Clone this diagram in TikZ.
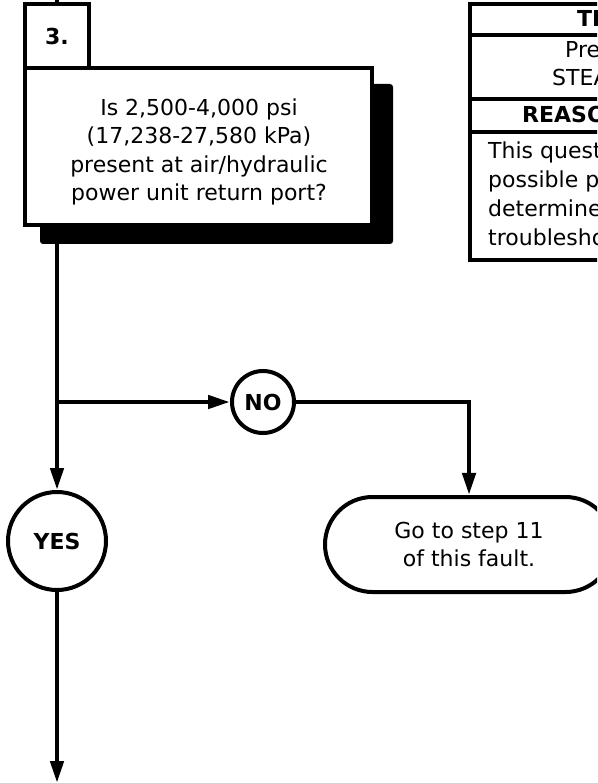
\documentclass[tikz,border=0pt]{standalone}
\usepackage{fontspec}
\setmainfont{DejaVu Sans}
\usetikzlibrary{arrows.meta,shapes.misc,shapes.geometric}
\begin{document}
\begin{tikzpicture}[x=1pt,y=-1pt,
  txt/.style={font=\fontsize{22}{28.5}\selectfont},
  boldtxt/.style={font=\fontsize{22}{28.5}\selectfont\bfseries},
  conn/.style={line width=4.5pt},
  arr/.style={line width=4.5pt,-{Triangle[length=22pt,width=13pt]}},
  boxline/.style={draw,line width=3.5pt},
  ringline/.style={draw,line width=4pt},
  tline/.style={line width=4.5pt},
]
\useasboundingbox (0,0) rectangle (597,783);
\clip (0,0) rectangle (597,783);
\fill[white] (0,0) rectangle (597,783);

% main step
\node[boxline, fill=white, minimum size=64pt, inner sep=0, boldtxt] (num) at (57,36) {3.};
\coordinate (top) at (57,0);
\draw[conn] (top) -- (num.north);
\coordinate (split) at (57,402);
\draw[conn] (num.south |- 0,225) -- (split);
\fill[rounded corners=3pt] (40,84) rectangle (393,244);
\node[boxline, fill=white, minimum width=347pt, minimum height=157pt, inner sep=0] (main) at (198.5,146.5) {};
\node[txt, align=center, inner sep=0] (maintext) at (199,152)
  {Is 2,500-4,000 psi\\(17,238-27,580 kPa)\\present at air/hydraulic\\power unit return port?};

% decision
\node[circle, ringline, minimum size=62pt, inner sep=0, boldtxt] (no) at (263,402) {NO};
\node[circle, ringline, minimum size=98pt, inner sep=0, boldtxt] (yes) at (57,541) {YES};
\node[rounded rectangle, ringline, minimum width=288pt, minimum height=95pt, inner sep=0, txt, align=center] (go) at (469,544.5)
  {Go to step 11\\of this fault.};
\coordinate (end) at (57,783);

\draw[arr] (split) -- (no);
\draw[arr] (split) -- (yes);
\draw[arr] (no) -| (go);
\draw[arr] (yes) -- (end);

% test / reason table (cut off at right)
\draw[tline] (470,4) rectangle (640,260);
\draw[tline] (470,35) -- (640,35);
\draw[tline] (470,99) -- (640,99);
\draw[tline] (470,132) -- (640,132);
\node[boldtxt, anchor=base west, inner sep=0] (th) at (577,27) {TE};
\node[txt, anchor=base west, inner sep=0] (tp1) at (565,58) {Pre};
\node[txt, anchor=base west, inner sep=0] (tp2) at (552,86) {STEA};
\node[boldtxt, anchor=base west, inner sep=0] (rh) at (522,123) {REASO};
\node[txt, anchor=base west, inner sep=0] (r1) at (488,159) {This quest};
\node[txt, anchor=base west, inner sep=0] (r2) at (488,188) {possible pr};
\node[txt, anchor=base west, inner sep=0] (r3) at (488,217) {determines};
\node[txt, anchor=base west, inner sep=0] (r4) at (488,246) {troublesho};
\end{tikzpicture}
\end{document}
